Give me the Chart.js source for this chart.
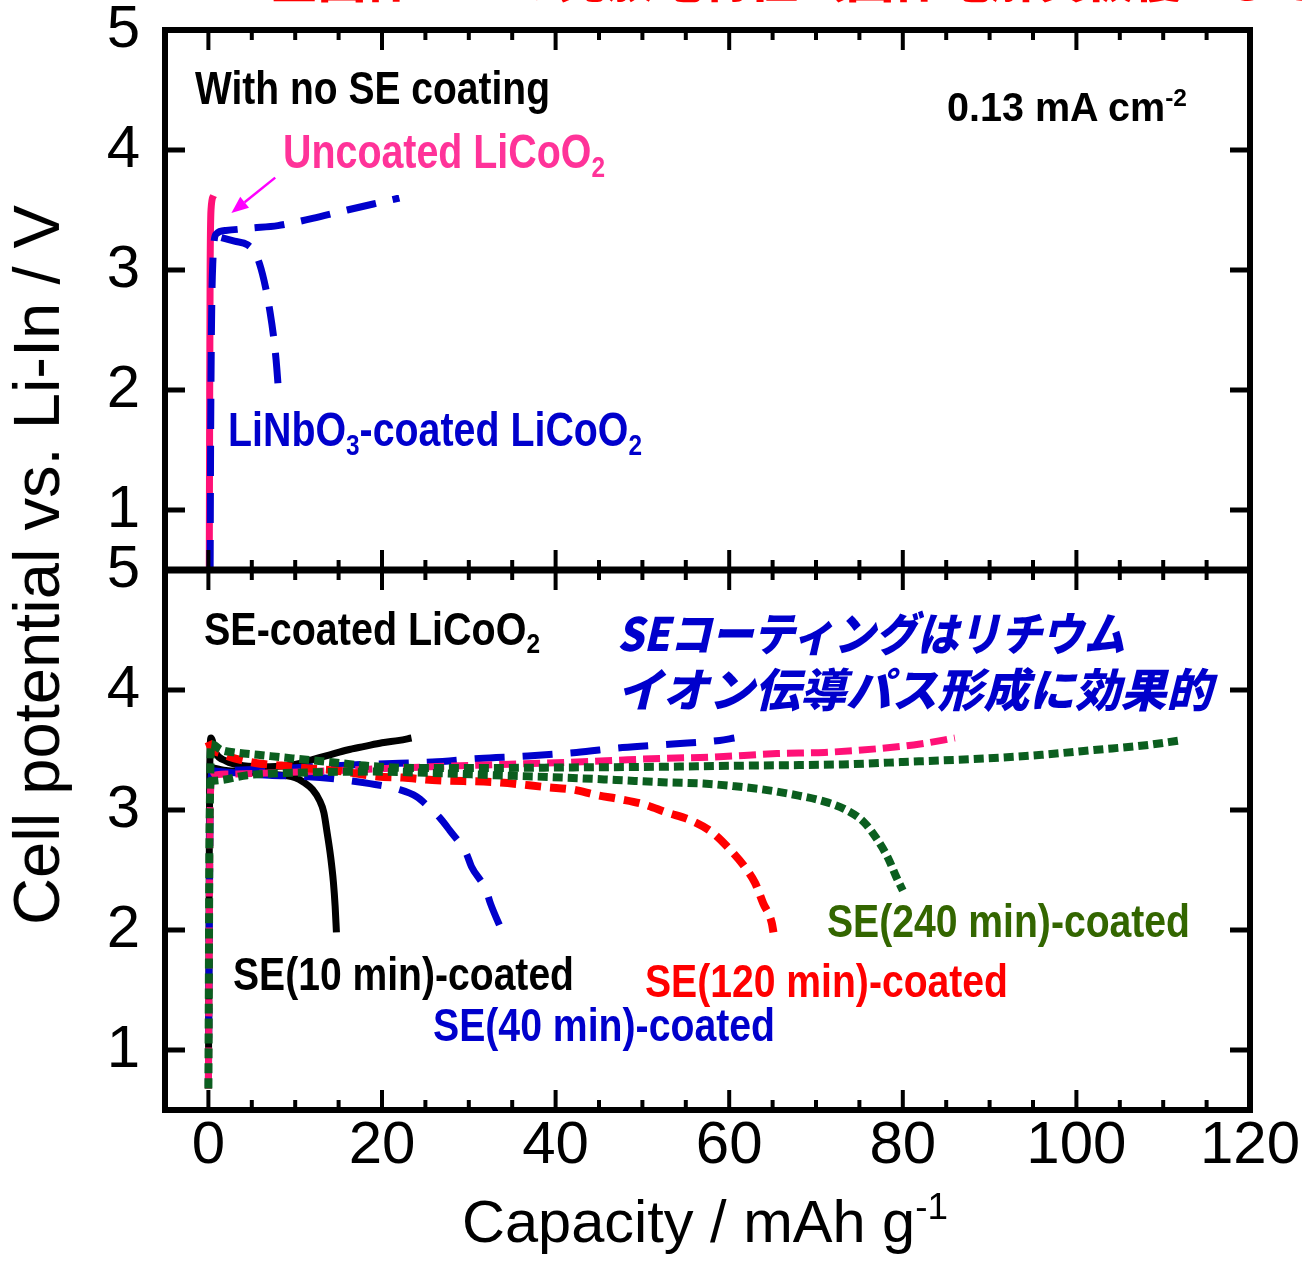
<!DOCTYPE html>
<html><head><meta charset="utf-8">
<script src="https://cdn.jsdelivr.net/npm/chart.js@4.4.1/dist/chart.umd.min.js"></script>
<style>
html,body{margin:0;padding:0;background:#fff;}
#wrap{position:relative;width:1302px;height:1261px;overflow:hidden;background:#fff;}
#c{position:absolute;left:0;top:0;}
.t{position:absolute;white-space:nowrap;line-height:1;transform-origin:0 0;font-family:"Liberation Sans",Arial,sans-serif;font-weight:bold;}
.jp{position:absolute;white-space:nowrap;line-height:1;transform-origin:0 0;font-family:"Noto Sans CJK JP",sans-serif;font-weight:900;font-style:italic;color:#0000CC;}
.sb{font-size:0.62em;position:relative;top:0.28em;}
.sp{font-size:0.62em;position:relative;top:-0.62em;}
</style></head><body>
<div id="wrap">
<canvas id="c" width="1302" height="1261"></canvas>
<div class="jp" id="tRed" data-left="270" data-top="-48" style="font-size:48px;color:#FF0000;font-style:normal;">全固体セルの充放電特性（固体電解質被覆による効果）</div>
<div class="t" data-left="195" data-base="104" data-w="355" style="font-size:46px;color:#000;">With no SE coating</div>
<div class="t" data-left="947" data-base="121" data-w="240" style="font-size:40px;color:#000;">0.13 mA cm<span class="sp">-2</span></div>
<div class="t" data-left="283" data-base="169" data-w="322" style="font-size:48px;color:#FF3399;">Uncoated LiCoO<span class="sb">2</span></div>
<div class="t" data-left="228" data-base="447" data-w="414" style="font-size:48px;color:#0000CC;">LiNbO<span class="sb">3</span>-coated LiCoO<span class="sb">2</span></div>
<div class="t" data-left="204" data-base="645" data-w="336" style="font-size:46px;color:#000;">SE-coated LiCoO<span class="sb">2</span></div>
<div class="jp" data-left="617" data-top="608" data-w="508" style="font-size:46px;">SEコーティングはリチウム</div>
<div class="jp" data-left="617" data-top="664" data-w="595" style="font-size:46px;">イオン伝導パス形成に効果的</div>
<div class="t" data-left="233" data-base="990" data-w="341" style="font-size:46px;color:#000;">SE(10 min)-coated</div>
<div class="t" data-left="433" data-base="1041" data-w="342" style="font-size:46px;color:#0000CC;">SE(40 min)-coated</div>
<div class="t" data-left="645" data-base="997" data-w="363" style="font-size:46px;color:#FF0000;">SE(120 min)-coated</div>
<div class="t" data-left="827" data-base="937" data-w="363" style="font-size:46px;color:#336600;">SE(240 min)-coated</div>
<div class="t" data-left="462" data-base="1243" data-w="486" style="font-size:60px;color:#000;font-weight:normal;">Capacity / mAh g<span class="sp">-1</span></div>
<div class="t" id="ytitle" style="font-size:64px;color:#000;font-weight:normal;transform-origin:50% 50%;">Cell potential vs. Li-In / V</div>
</div>
<script>
// ---------- data ----------
const xTicks = [0, 20, 40, 60, 80, 100, 120];
const yTicks = [1, 2, 3, 4, 5];

// top panel: with no SE coating
const uncoatedX = [0.1, 0.15, 0.2, 0.3, 0.6];
const uncoatedY = [0.5, 2.0, 3.0, 3.5, 3.62];
const linbChargeX = [0.2, 0.25, 0.35, 0.5, 0.9, 2, 5, 8, 12, 16, 19, 22];
const linbChargeY = [0.5, 1.5, 2.5, 3.05, 3.3, 3.33, 3.35, 3.37, 3.43, 3.5, 3.55, 3.6];
const linbDischargeX = [1.5, 3, 4.5, 5.3, 5.9, 6.6, 7.1, 7.5, 7.8, 8.1];
const linbDischargeY = [3.27, 3.24, 3.21, 3.15, 3.05, 2.85, 2.65, 2.45, 2.25, 1.97];

// bottom panel: SE-coated LiCoO2
const se10ChargeX = [0, 0.05, 0.1, 0.15, 0.3, 0.8, 2, 4, 7, 10, 12, 14, 16, 18, 20, 22, 23.4];
const se10ChargeY = [0.68, 1.5, 2.6, 3.3, 3.6, 3.48, 3.41, 3.37, 3.36, 3.38, 3.42, 3.46, 3.5, 3.53, 3.56, 3.58, 3.6];
const se10DischargeX = [0, 2, 4, 7, 10, 11, 12, 12.8, 13.3, 13.7, 14.1, 14.4, 14.6, 14.75];
const se10DischargeY = [3.36, 3.33, 3.32, 3.3, 3.27, 3.23, 3.17, 3.08, 2.98, 2.8, 2.6, 2.4, 2.2, 1.98];

const se40ChargeX = [0, 0.1, 0.2, 0.4, 2, 6, 12, 18, 22, 25.8, 31.2, 36.8, 42.4, 47.7, 53.5, 58.9, 60.6];
const se40ChargeY = [0.7, 2.0, 3.0, 3.3, 3.33, 3.34, 3.36, 3.38, 3.39, 3.4, 3.43, 3.45, 3.48, 3.52, 3.55, 3.58, 3.6];
const se40DischargeX = [0, 3, 7, 11, 14.5, 18.6, 22, 24, 25.3, 26.6, 27.8, 29.7, 30.3, 32, 32.5, 33.9];
const se40DischargeY = [3.33, 3.31, 3.29, 3.28, 3.26, 3.22, 3.17, 3.11, 3.03, 2.94, 2.83, 2.64, 2.53, 2.33, 2.22, 1.98];

const se120ChargeX = [0, 0.1, 0.2, 0.4, 2, 8, 15, 25.5, 32, 38.5, 45.8, 52, 57.8, 65.5, 71, 77, 82, 86];
const se120ChargeY = [0.68, 2.0, 3.0, 3.28, 3.3, 3.31, 3.33, 3.36, 3.375, 3.39, 3.41, 3.43, 3.44, 3.47, 3.48, 3.51, 3.55, 3.6];
const se120DischargeX = [0, 0.3, 1.5, 3, 5.6, 8.4, 11, 14.5, 19.5, 22.4, 25.8, 33.5, 39, 42, 44.7, 47.4, 50, 52.8, 55.7, 58.1, 60.1, 61.8, 63, 63.9, 64.9, 65.1];
const se120DischargeY = [3.57, 3.52, 3.47, 3.43, 3.39, 3.37, 3.35, 3.33, 3.28, 3.27, 3.25, 3.23, 3.19, 3.17, 3.125, 3.09, 3.05, 2.98, 2.91, 2.81, 2.67, 2.525, 2.39, 2.225, 2.06, 1.98];

const se240ChargeX = [0, 0.05, 0.1, 0.2, 0.3, 1.5, 3, 5.7, 9.7, 14, 18, 24, 32, 42, 52, 62, 73, 80, 89.6, 96, 102, 108, 112];
const se240ChargeY = [0.68, 1.5, 2.5, 3.2, 3.55, 3.5, 3.48, 3.46, 3.43, 3.4, 3.37, 3.35, 3.35, 3.355, 3.36, 3.37, 3.38, 3.4, 3.43, 3.46, 3.5, 3.54, 3.58];
const se240DischargeX = [0, 1.5, 4.5, 9.9, 19, 25, 33, 41, 47, 52.8, 57, 60.4, 64, 68, 71, 73.5, 75.5, 77, 78.3, 79.2, 80];
const se240DischargeY = [3.24, 3.25, 3.29, 3.31, 3.32, 3.31, 3.29, 3.27, 3.25, 3.23, 3.22, 3.2, 3.17, 3.12, 3.07, 3.0, 2.9, 2.76, 2.6, 2.45, 2.33];

// annotation arrow (data coordinates, top panel)
const arrowFrom = [7.7, 3.77];
const arrowTo = [2.65, 3.475];

// ---------- build ----------
const pts = (xs, ys) => xs.map((x, i) => ({x: x, y: ys[i]}));
const PINK = '#FF1177', BLUE = '#0000CC', RED = '#FF0000', GREEN = '#0B5E1F', BLACK = '#000000';
function ds(label, xs, ys, axis, color, width, dash) {
  return {label: label, data: pts(xs, ys), yAxisID: axis, borderColor: color, borderWidth: width,
    borderDash: dash, pointRadius: 0, fill: false, cubicInterpolationMode: 'monotone',
    borderCapStyle: 'butt', borderJoinStyle: 'round'};
}
const datasets = [
  // first listed = drawn on top
  ds('LiNbO3 charge', linbChargeX, linbChargeY, 'yTop', BLUE, 7, [30, 17]),
  ds('LiNbO3 discharge', linbDischargeX, linbDischargeY, 'yTop', BLUE, 7, [30, 17]),
  ds('Uncoated', uncoatedX, uncoatedY, 'yTop', PINK, 7, []),
  ds('SE240 charge', se240ChargeX, se240ChargeY, 'yBot', GREEN, 8, [10, 5]),
  ds('SE240 discharge', se240DischargeX, se240DischargeY, 'yBot', GREEN, 8, [10, 5]),
  ds('SE120 discharge', se120DischargeX, se120DischargeY, 'yBot', RED, 8, [16, 9]),
  ds('SE120 charge', se120ChargeX, se120ChargeY, 'yBot', PINK, 7, [17, 7]),
  ds('SE40 charge', se40ChargeX, se40ChargeY, 'yBot', BLUE, 7, [30, 18]),
  ds('SE40 discharge', se40DischargeX, se40DischargeY, 'yBot', BLUE, 7, [30, 18]),
  ds('SE10 charge', se10ChargeX, se10ChargeY, 'yBot', BLACK, 7, []),
  ds('SE10 discharge', se10DischargeX, se10DischargeY, 'yBot', BLACK, 7, [])
];

const tickFont = {family: '"Liberation Sans Narrow", "Liberation Sans", Arial, sans-serif', size: 60, lineHeight: 1};

function yScale() {
  return {
    type: 'linear', position: 'left', stack: 'panels', stackWeight: 1, min: 0.5, max: 5,
    grid: {display: false, drawTicks: false}, border: {display: false},
    afterBuildTicks: s => { s.ticks = yTicks.map(v => ({value: v})); },
    afterFit: s => { s.width = 165; s.paddingTop = 0; s.paddingBottom = 0; s.paddingLeft = 0; s.paddingRight = 0; },
    ticks: {color: '#000', font: tickFont, padding: 25, callback: v => String(v)}
  };
}

const framePlugin = {
  id: 'frame',
  afterDatasetsDraw(chart) {
    const ctx = chart.ctx, a = chart.chartArea, sx = chart.scales.x;
    const yt = chart.scales.yTop, yb = chart.scales.yBot;
    const mid = yt.bottom;
    const line = (x1, y1, x2, y2) => { ctx.beginPath(); ctx.moveTo(x1, y1); ctx.lineTo(x2, y2); ctx.stroke(); };
    ctx.save();
    ctx.strokeStyle = '#000';
    ctx.lineCap = 'butt';
    ctx.lineWidth = 4;
    for (let v = 0; v <= 120; v += 5) {
      const px = sx.getPixelForValue(v);
      const L = (v % 20 === 0) ? 20 : 10;
      line(px, a.top, px, a.top + L);
      line(px, a.bottom, px, a.bottom - L);
      line(px, mid - L, px, mid + L);
    }
    ctx.lineWidth = 5;
    [yt, yb].forEach(s => {
      yTicks.forEach(v => {
        if (v === 5) return;
        const py = s.getPixelForValue(v);
        line(a.left, py, a.left + 20, py);
        line(a.right, py, a.right - 20, py);
      });
    });
    ctx.lineWidth = 6;
    ctx.strokeRect(a.left, a.top, a.right - a.left, a.bottom - a.top);
    ctx.lineWidth = 7;
    line(a.left, mid, a.right, mid);
    // arrow
    const x1 = sx.getPixelForValue(arrowFrom[0]), y1 = yt.getPixelForValue(arrowFrom[1]);
    const x2 = sx.getPixelForValue(arrowTo[0]), y2 = yt.getPixelForValue(arrowTo[1]);
    const ang = Math.atan2(y2 - y1, x2 - x1), hl = 17, hw = 7;
    const bx = x2 - hl * Math.cos(ang), by = y2 - hl * Math.sin(ang);
    ctx.strokeStyle = '#FF00FF'; ctx.fillStyle = '#FF00FF'; ctx.lineWidth = 2.5;
    line(x1, y1, bx, by);
    ctx.beginPath();
    ctx.moveTo(x2, y2);
    ctx.lineTo(bx - hw * Math.sin(ang), by + hw * Math.cos(ang));
    ctx.lineTo(bx + hw * Math.sin(ang), by - hw * Math.cos(ang));
    ctx.closePath(); ctx.fill();
    ctx.restore();
  }
};

new Chart(document.getElementById('c'), {
  type: 'line',
  data: {datasets: datasets},
  options: {
    responsive: false, animation: false, events: [],
    layout: {padding: {left: 0, top: 30, right: 52, bottom: 0}},
    plugins: {legend: {display: false}, tooltip: {enabled: false}},
    scales: {
      x: {
        type: 'linear', position: 'bottom', min: -5, max: 120,
        grid: {display: false, drawTicks: false}, border: {display: false},
        afterBuildTicks: s => { s.ticks = xTicks.map(v => ({value: v})); },
        afterFit: s => { s.height = 151; s.paddingTop = 0; s.paddingBottom = 0; s.paddingLeft = 0; s.paddingRight = 0; },
        ticks: {color: '#000', font: tickFont, padding: 6, maxRotation: 0, autoSkip: false, callback: v => String(v)}
      },
      yBot: yScale(),
      yTop: yScale()
    }
  },
  plugins: [framePlugin]
});

// ---------- text placement ----------
document.querySelectorAll('[data-left]').forEach(el => {
  const F = parseFloat(el.style.fontSize);
  el.style.left = el.dataset.left + 'px';
  if (el.dataset.base) el.style.top = (parseFloat(el.dataset.base) - 0.8465 * F) + 'px';
  else el.style.top = el.dataset.top + 'px';
  if (el.dataset.w) {
    const w = el.getBoundingClientRect().width;
    el.style.transform = 'scaleX(' + (parseFloat(el.dataset.w) / w) + ')';
  }
});
(function () {
  const el = document.getElementById('ytitle');
  const r = el.getBoundingClientRect();
  const s = 720 / r.width;
  el.style.left = (37 - r.width / 2) + 'px';
  el.style.top = (565 - r.height / 2) + 'px';
  el.style.transform = 'rotate(-90deg) scaleX(' + s + ')';
})();
</script>
</body></html>
